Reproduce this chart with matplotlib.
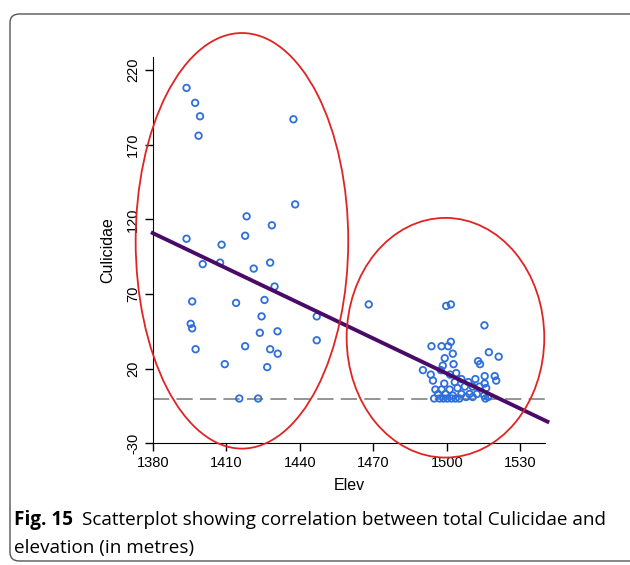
import matplotlib
matplotlib.use("Agg")
import matplotlib.pyplot as plt
from matplotlib.patches import Ellipse, FancyBboxPatch

plt.rcParams["font.family"] = ["Liberation Sans", "DejaVu Sans"]
plt.rcParams["axes.unicode_minus"] = False

# elevation (m) and Culicidae counts
elev_low = [1393.8, 1397.3, 1399.3, 1398.7, 1437.4, 1438.1, 1418.3, 1428.6, 1417.7,
            1393.8, 1408.1, 1400.4, 1407.5, 1421.2, 1427.9, 1429.7, 1396.1, 1414.0,
            1425.6, 1446.9, 1424.4, 1395.5, 1396.1, 1423.7, 1430.9, 1446.9, 1397.5,
            1417.7, 1427.9, 1431.0, 1409.4, 1426.7, 1415.3, 1423.0, 1468.1]
cul_low = [208, 198, 189, 176, 187, 130, 122, 116, 109,
           107, 103, 90, 91, 87, 91, 75, 65, 64,
           66, 55, 55, 50, 47, 44, 45, 39, 33,
           35, 33, 30, 23, 21, 0, 0, 63]

elev_high = [1499.7, 1501.6, 1515.3, 1493.7, 1497.8, 1500.5, 1501.6, 1502.4, 1499.1,
             1517.1, 1521.1, 1512.7, 1513.5, 1502.7, 1498.3, 1490.2, 1493.4, 1497.5,
             1501.3, 1503.8, 1494.3, 1498.9, 1503.2, 1505.9, 1508.7, 1511.6, 1515.4,
             1519.5, 1520.1, 1515.4, 1495.3, 1497.8, 1501.1, 1504.3, 1507.3, 1510.5,
             1513.3, 1516.0, 1496.4, 1499.4, 1502.4, 1505.9, 1509.2, 1512.2, 1515.2,
             1494.8, 1497.0, 1498.6, 1500.2, 1501.9, 1503.5, 1505.1, 1507.8, 1510.5,
             1515.7, 1516.8]
cul_high = [62, 63, 49, 35, 35, 35, 38, 30, 27,
            31, 28, 25, 23, 23, 22, 19, 16, 19,
            16, 17, 12, 10, 11, 13, 11, 13, 15,
            15, 12, 10, 6, 6, 6, 7, 8, 8,
            8, 7, 3, 3, 2, 3, 3, 3, 2,
            0, 0, 0, 0, 0, 0, 0, 1, 1,
            0, 1]

# fitted line end points
fit_x = [1380, 1541]
fit_y = [110.8, -15.5]

xticks = [1380, 1410, 1440, 1470, 1500, 1530]
yticks = [-30, 20, 70, 120, 170, 220]

fig = plt.figure(figsize=(6.3, 5.65), dpi=100)

# rounded frame of the figure panel
frame = FancyBboxPatch((10 / 630, 4 / 565), 630 / 630, 547 / 565,
                       boxstyle="round,pad=0,rounding_size=0.015",
                       transform=fig.transFigure, fill=False,
                       edgecolor="#555555", linewidth=1.0)
fig.patches.append(frame)

ax = fig.add_axes([152.7 / 630, 121.7 / 565, 392.3 / 630, 386.3 / 565])

ax.axhline(0, color="#8c8c8c", lw=1.3, dashes=(9, 4), zorder=1)
ax.plot(fit_x, fit_y, color="#4a0a68", lw=2.8, zorder=3, clip_on=False)
ax.scatter(elev_low + elev_high, cul_low + cul_high, s=22, facecolors="none",
           edgecolors="#2f6fdc", linewidths=1.3, zorder=2)

ax.add_patch(Ellipse((1416.4, 105.6), 86.7, 278.3, fill=False,
                     edgecolor="#e02424", lw=1.3, clip_on=False, zorder=4))
ax.add_patch(Ellipse((1499.4, 40.7), 80.6, 160.5, fill=False,
                     edgecolor="#e02424", lw=1.3, clip_on=False, zorder=4))

ax.set_xlim(1380, 1540)
ax.set_ylim(-30, 228.7)
ax.set_xticks(xticks)
ax.set_yticks(yticks)
for s in ["top", "right"]:
    ax.spines[s].set_visible(False)
ax.tick_params(length=6, width=1, pad=3, labelsize=10.5)
for lab in ax.get_yticklabels():
    lab.set_rotation(90)
    lab.set_va("center")

ax.set_xlabel("Elev", fontsize=11.5, labelpad=6)
ax.set_ylabel("Culicidae", fontsize=11.5, labelpad=8)

# caption
cap_y1 = 1 - 520 / 565
cap_y2 = 1 - 548 / 565
bold = fig.text(14 / 630, cap_y1, "Fig. 15", family="Open Sans", weight="bold",
                fontsize=13.6, va="center", ha="left")
fig.canvas.draw()
bb = bold.get_window_extent()
fig.text((bb.x1 + 9) / 630, cap_y1,
         "Scatterplot showing correlation between total Culicidae and",
         family="Open Sans", fontsize=13.6, va="center", ha="left")
fig.text(14 / 630, cap_y2, "elevation (in metres)",
         family="Open Sans", fontsize=13.6, va="center", ha="left")

fig.savefig("out.png", dpi=100)
